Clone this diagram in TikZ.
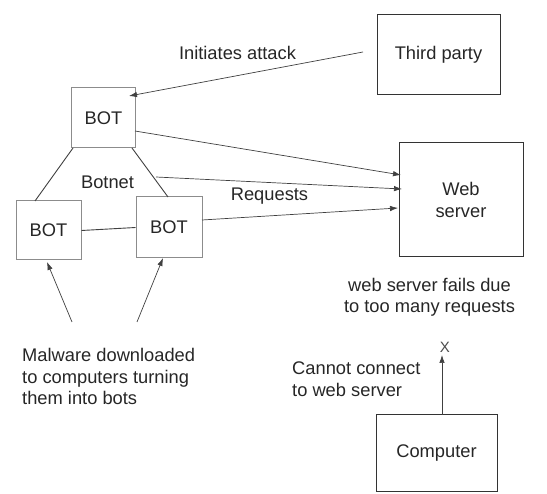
\documentclass[tikz,border=0pt]{standalone}
\usepackage{fontspec}
\setmainfont{Liberation Sans}
\usetikzlibrary{arrows.meta}
\begin{document}
\begin{tikzpicture}[x=1pt,y=-1pt,
  every node/.style={font=\fontsize{18.3}{21.5}\selectfont, text=black!85, inner sep=0pt},
  botbox/.style={draw=black!45, line width=1pt},
  bigbox/.style={draw=black!80, line width=1pt},
  arr/.style={draw=black!75, line width=0.7pt, -{Latex[length=8pt,width=5.5pt]}},
  link/.style={draw=black!75, line width=0.9pt}]
\useasboundingbox (0,0) rectangle (547,494);
% boxes
\node[bigbox, minimum width=123pt, minimum height=80pt] (third) at (438.5,55) {Third party};
\node[botbox, minimum width=64pt, minimum height=60pt] (bot1) at (103.5,118) {BOT};
\node[botbox, minimum width=65pt, minimum height=59pt] (bot2) at (48.5,230.5) {BOT};
\node[botbox, minimum width=66pt, minimum height=61pt] (bot3) at (169,227.5) {BOT};
\node[bigbox, minimum width=124pt, minimum height=114pt, align=center] (web) at (461,200) {Web\\server};
\node[bigbox, minimum width=121pt, minimum height=77pt] (comp) at (436.5,453.5) {Computer};
% labels
\node (lia) at (237.5,53) {Initiates attack};
\node (lbotnet) at (107.5,182) {Botnet};
\node (lreq) at (269.5,196) {Requests};
\node[align=center] (lfail) at (429.5,297.5) {web server fails due\\to too many requests};
\node[align=left, anchor=west] (lcc) at (292,379) {Cannot connect\\to web server};
\node[align=left, anchor=west] (lmal) at (22,376.5) {Malware downloaded\\to computers turning\\them into bots};
\node[font=\fontsize{15}{15}\selectfont, text=black!70] (xmark) at (445,347) {X};
% coordinates
\coordinate (ias) at (363,52);
\coordinate (iat) at (129,96);
\coordinate (r1s) at (135,131);
\coordinate (r1t) at (401,175);
\coordinate (r2s) at (156,177);
\coordinate (r2t) at (402,189);
\coordinate (r3s) at (202,220);
\coordinate (r3t) at (398,208);
\coordinate (m1s) at (72,322);
\coordinate (m1t) at (47,262);
\coordinate (m2s) at (137,322);
\coordinate (m2t) at (163,258);
\coordinate (b1l) at (73,148);
\coordinate (b2t) at (35,201);
\coordinate (b1r) at (132,148);
\coordinate (b3t) at (168,197);
\coordinate (cas) at (442,415);
\coordinate (cat) at (442,355);
% connectors
\draw[arr] (ias) -- (iat);
\draw[arr] (r1s) -- (r1t);
\draw[arr] (r2s) -- (r2t);
\draw[arr] (r3s) -- (r3t);
\draw[link] (b1l) -- (b2t);
\draw[link] (b1r) -- (b3t);
\draw[link] (bot2.east) -- (bot3.west);
\draw[arr] (m1s) -- (m1t);
\draw[arr] (m2s) -- (m2t);
\draw[arr] (cas) -- (cat);
\end{tikzpicture}
\end{document}
